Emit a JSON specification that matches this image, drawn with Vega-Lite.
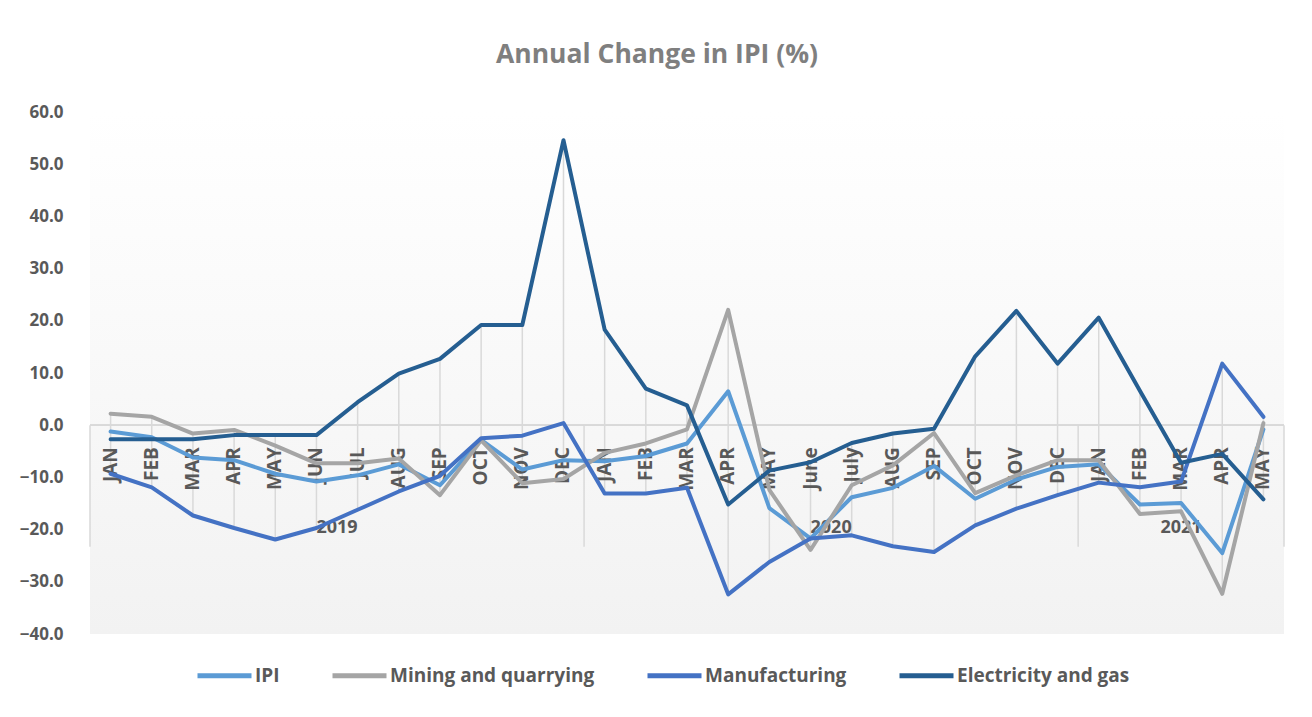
{
  "$schema": "https://vega.github.io/schema/vega-lite/v6.json",
  "width": 1194,
  "height": 522,
  "autosize": {"type": "none"},
  "padding": {"left": 90, "top": 112, "right": 28, "bottom": 83},
  "background": "white",
  "title": {
    "text": "Annual Change in IPI (%)",
    "font": "Open Sans",
    "fontSize": 26.5,
    "fontWeight": "bold",
    "color": "#7F7F7F",
    "anchor": "middle",
    "baseline": "alphabetic",
    "offset": 14,
    "dx": -30
  },
  "datasets": {
    "ipi": [
      {"i": 0, "m": "JAN", "IPI": -1.2, "Mining and quarrying": 2.2, "Manufacturing": -9.3, "Electricity and gas": -2.7},
      {"i": 1, "m": "FEB", "IPI": -2.3, "Mining and quarrying": 1.6, "Manufacturing": -11.9, "Electricity and gas": -2.7},
      {"i": 2, "m": "MAR", "IPI": -6.2, "Mining and quarrying": -1.6, "Manufacturing": -17.3, "Electricity and gas": -2.7},
      {"i": 3, "m": "APR", "IPI": -6.7, "Mining and quarrying": -0.9, "Manufacturing": -19.7, "Electricity and gas": -1.9},
      {"i": 4, "m": "MAY", "IPI": -9.3, "Mining and quarrying": -3.9, "Manufacturing": -21.9, "Electricity and gas": -1.9},
      {"i": 5, "m": "JUN", "IPI": -10.8, "Mining and quarrying": -7.3, "Manufacturing": -19.7, "Electricity and gas": -1.9},
      {"i": 6, "m": "JUL", "IPI": -9.6, "Mining and quarrying": -7.3, "Manufacturing": -16.2, "Electricity and gas": 4.4},
      {"i": 7, "m": "AUG", "IPI": -7.5, "Mining and quarrying": -6.4, "Manufacturing": -12.7, "Electricity and gas": 9.9},
      {"i": 8, "m": "SEP", "IPI": -11.5, "Mining and quarrying": -13.4, "Manufacturing": -9.7, "Electricity and gas": 12.7},
      {"i": 9, "m": "OCT", "IPI": -2.8, "Mining and quarrying": -2.9, "Manufacturing": -2.5, "Electricity and gas": 19.2},
      {"i": 10, "m": "NOV", "IPI": -8.5, "Mining and quarrying": -11.1, "Manufacturing": -2.0, "Electricity and gas": 19.2},
      {"i": 11, "m": "DEC", "IPI": -6.7, "Mining and quarrying": -10.3, "Manufacturing": 0.4, "Electricity and gas": 54.6},
      {"i": 12, "m": "JAN", "IPI": -6.9, "Mining and quarrying": -5.3, "Manufacturing": -13.1, "Electricity and gas": 18.3},
      {"i": 13, "m": "FEB", "IPI": -5.9, "Mining and quarrying": -3.5, "Manufacturing": -13.1, "Electricity and gas": 7.0},
      {"i": 14, "m": "MAR", "IPI": -3.5, "Mining and quarrying": -0.8, "Manufacturing": -12.0, "Electricity and gas": 3.8},
      {"i": 15, "m": "APR", "IPI": 6.5, "Mining and quarrying": 22.1, "Manufacturing": -32.4, "Electricity and gas": -15.2},
      {"i": 16, "m": "MAY", "IPI": -15.9, "Mining and quarrying": -12.4, "Manufacturing": -26.2, "Electricity and gas": -8.7},
      {"i": 17, "m": "June", "IPI": -21.7, "Mining and quarrying": -23.9, "Manufacturing": -21.7, "Electricity and gas": -7.1},
      {"i": 18, "m": "July", "IPI": -13.8, "Mining and quarrying": -11.5, "Manufacturing": -21.1, "Electricity and gas": -3.4},
      {"i": 19, "m": "AUG", "IPI": -12.0, "Mining and quarrying": -7.7, "Manufacturing": -23.2, "Electricity and gas": -1.6},
      {"i": 20, "m": "SEP", "IPI": -7.8, "Mining and quarrying": -1.5, "Manufacturing": -24.3, "Electricity and gas": -0.7},
      {"i": 21, "m": "OCT", "IPI": -14.1, "Mining and quarrying": -13.0, "Manufacturing": -19.2, "Electricity and gas": 13.2},
      {"i": 22, "m": "NOV", "IPI": -10.4, "Mining and quarrying": -9.6, "Manufacturing": -16.0, "Electricity and gas": 21.9},
      {"i": 23, "m": "DEC", "IPI": -8.0, "Mining and quarrying": -6.7, "Manufacturing": -13.4, "Electricity and gas": 11.8},
      {"i": 24, "m": "JAN", "IPI": -7.5, "Mining and quarrying": -6.7, "Manufacturing": -11.0, "Electricity and gas": 20.6},
      {"i": 25, "m": "FEB", "IPI": -15.2, "Mining and quarrying": -17.0, "Manufacturing": -11.9, "Electricity and gas": 6.6},
      {"i": 26, "m": "MAR", "IPI": -14.9, "Mining and quarrying": -16.5, "Manufacturing": -10.8, "Electricity and gas": -7.2},
      {"i": 27, "m": "APR", "IPI": -24.5, "Mining and quarrying": -32.3, "Manufacturing": 11.8, "Electricity and gas": -5.5},
      {"i": 28, "m": "MAY", "IPI": -0.8, "Mining and quarrying": 0.4, "Manufacturing": 1.6, "Electricity and gas": -14.2}
    ],
    "years": [
      {"yr": "2019", "mid": 5.5},
      {"yr": "2020", "mid": 17.5},
      {"yr": "2021", "mid": 26}
    ],
    "bounds": [
      {"b": -0.5},
      {"b": 11.5},
      {"b": 23.5},
      {"b": 28.5}
    ]
  },
  "data": {"name": "ipi"},
  "layer": [
    {
      "mark": {"type": "rule", "color": "#D9D9D9", "strokeWidth": 1.5},
      "encoding": {
        "y": {"datum": 0, "type": "quantitative", "scale": {"domain": [-40, 60], "nice": false, "zero": false},
          "axis": {"values": [-40, -30, -20, -10, 0, 10, 20, 30, 40, 50, 60], "format": ".1f", "title": null, "domain": false, "ticks": false, "grid": false,
            "labelFont": "Open Sans", "labelFontSize": 17, "labelFontWeight": "bold", "labelColor": "#595959", "labelPadding": 27}}
      }
    },
    {
      "data": {"name": "bounds"},
      "mark": {"type": "rule", "color": "#D9D9D9", "strokeWidth": 1.5},
      "encoding": {
        "x": {"field": "b", "type": "quantitative", "scale": {"domain": [-0.5, 28.5], "nice": false, "zero": false}, "axis": null},
        "y": {"datum": 0, "type": "quantitative"},
        "y2": {"datum": -23.3}
      }
    },
    {
      "transform": [
        {"fold": ["IPI", "Mining and quarrying", "Manufacturing", "Electricity and gas"], "as": ["s", "v"]},
        {"aggregate": [{"op": "min", "field": "v", "as": "lo"}, {"op": "max", "field": "v", "as": "hi"}], "groupby": ["i"]}
      ],
      "mark": {"type": "rule", "color": "#D9D9D9", "strokeWidth": 1.5},
      "encoding": {
        "x": {"field": "i", "type": "quantitative"},
        "y": {"field": "lo", "type": "quantitative"},
        "y2": {"field": "hi"}
      }
    },
    {
      "mark": {"type": "text", "angle": 270, "align": "right", "baseline": "middle", "dx": -22, "font": "Open Sans", "fontSize": 19, "fontWeight": "bold", "color": "#595959"},
      "encoding": {
        "x": {"field": "i", "type": "quantitative"},
        "y": {"datum": 0, "type": "quantitative"},
        "text": {"field": "m"}
      }
    },
    {
      "data": {"name": "years"},
      "mark": {"type": "text", "align": "center", "baseline": "middle", "font": "Open Sans", "fontSize": 18, "fontWeight": "bold", "color": "#595959"},
      "encoding": {
        "x": {"field": "mid", "type": "quantitative"},
        "y": {"datum": -19.7, "type": "quantitative"},
        "text": {"field": "yr"}
      }
    },
    {
      "transform": [
        {"fold": ["IPI", "Mining and quarrying", "Manufacturing", "Electricity and gas"], "as": ["s", "v"]}
      ],
      "mark": {"type": "line", "strokeWidth": 4, "strokeJoin": "round", "strokeCap": "round"},
      "encoding": {
        "x": {"field": "i", "type": "quantitative"},
        "y": {"field": "v", "type": "quantitative"},
        "color": {
          "field": "s", "type": "nominal",
          "scale": {"domain": ["IPI", "Mining and quarrying", "Manufacturing", "Electricity and gas"], "range": ["#5B9BD5", "#A5A5A5", "#4472C4", "#255E91"]},
          "legend": {"orient": "none", "legendX": 105, "legendY": 534, "direction": "horizontal", "title": null,
            "symbolType": "stroke", "symbolSize": 2916, "symbolStrokeWidth": 5,
            "labelFont": "Open Sans", "labelFontSize": 19, "labelFontWeight": "bold", "labelColor": "#595959", "labelOffset": 1, "labelLimit": 0, "columnPadding": 42}
        }
      }
    }
  ],
  "config": {
    "view": {
      "stroke": null,
      "fill": {"gradient": "linear", "x1": 0, "y1": 0, "x2": 0, "y2": 1, "stops": [{"offset": 0, "color": "#FFFFFF"}, {"offset": 1, "color": "#F2F2F2"}]}
    }
  }
}
